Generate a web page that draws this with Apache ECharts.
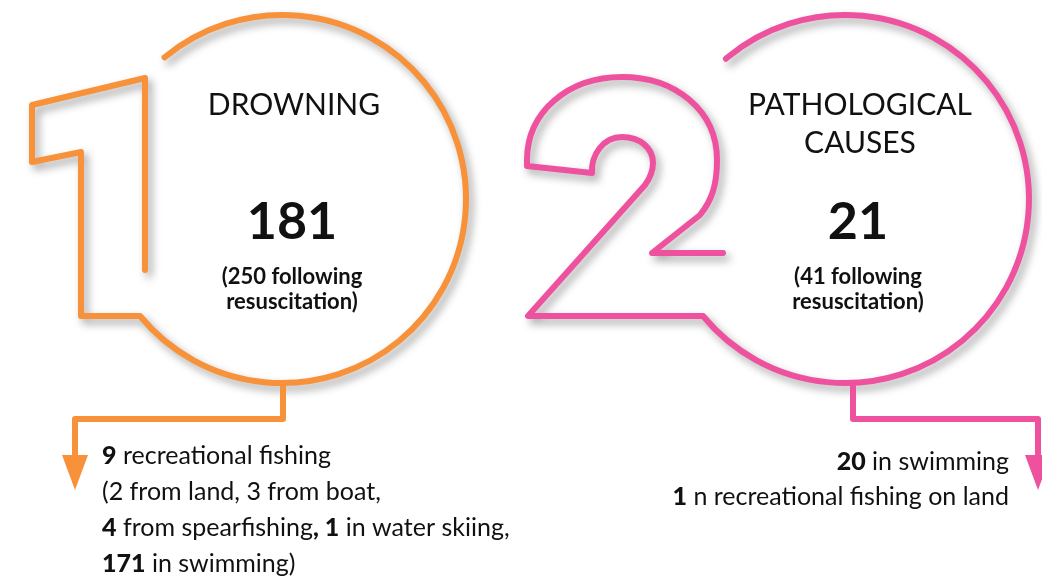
<!DOCTYPE html>
<html>
<head>
<meta charset="utf-8">
<script src="https://cdn.jsdelivr.net/npm/echarts@6/dist/echarts.min.js"></script>
<style>
  html, body { margin: 0; padding: 0; background: #fff; }
  #main { width: 1042px; height: 585px; }
</style>
</head>
<body>
<div id="main"></div>
<script>
const causes = ['DROWNING', 'PATHOLOGICAL\nCAUSES'];
const deaths = [181, 21];
const afterResuscitation = [250, 41];
const colors = ['#F7923A', '#EE529F'];

// drowning: fishing total, from land, from boat, spearfishing, water skiing, swimming
const drowningBreakdown = [9, 2, 3, 4, 1, 171];
// pathological: swimming, fishing on land
const pathologicalBreakdown = [20, 1];

const d = drowningBreakdown, p = pathologicalBreakdown;
const detailLines = [
  [
    '{b|' + d[0] + '} recreational fishing',
    '(' + d[1] + ' from land, ' + d[2] + ' from boat,',
    '{b|' + d[3] + '} from spearfishing{b|, ' + d[4] + '} in water skiing,',
    '{b|' + d[5] + '} in swimming)'
  ],
  [
    '{b|' + p[0] + '} in swimming',
    '{b|' + p[1] + '} n recreational fishing on land'
  ]
];

const FONT = 'Lato, "Noto Sans", sans-serif';
const R = 184;

// big outlined digit + surrounding circle, drawn relative to the circle centre
function digitPath(i, cx, cy) {
  const P = (x, y) => (cx + x).toFixed(1) + ',' + (cy + y).toFixed(1) + ' ';
  const sx = -Math.sqrt(R * R - 117 * 117);
  let s, endA;
  if (i === 0) {
    s = 'M' + P(-137, 71) + 'L' + P(-137, -121) + 'L' + P(-250, -94) + 'L' + P(-250, -37) +
      'L' + P(-201, -47) + 'L' + P(-201, 117) + 'L' + P(sx, 117);
    endA = Math.atan2(-141, -117);
  } else {
    s = 'M' + P(-122, 54) + 'L' + P(-193, 54) + 'L' + P(-145, 16) +
      'C' + P(-133, 1) + P(-128, -14) + P(-128, -39) +
      'C' + P(-128, -89) + P(-170, -122) + P(-223, -122) +
      'C' + P(-277, -122) + P(-318, -87) + P(-318, -39) +
      'L' + P(-318, -33) + 'L' + P(-253, -26) +
      'C' + P(-254, -44) + P(-242, -62) + P(-223, -62) +
      'C' + P(-205, -62) + P(-192, -51) + P(-192, -36) +
      'C' + P(-192, -27) + P(-195, -21) + P(-200, -14) +
      'L' + P(-317, 117) + 'L' + P(sx, 117);
    endA = Math.atan2(-139, -118);
  }
  s += 'A' + R + ',' + R + ' 0 1 0 ' + P(R * Math.cos(endA), R * Math.sin(endA));
  return s;
}

const layout = [
  { cx: 282, cy: 199, textX: 292, stemX: 1, arrowX: -207, detailX: 102, detailY: 456, detailGap: 36, align: 'left' },
  { cx: 845, cy: 199, textX: 858, stemX: 8, arrowX: 193, detailX: 1009, detailY: 462, detailGap: 35, align: 'right' }
];

const chart = echarts.init(document.getElementById('main'));

chart.setOption({
  animation: false,
  series: [{
    type: 'custom',
    coordinateSystem: 'none',
    silent: true,
    data: deaths.map((v, i) => [i, v, afterResuscitation[i]]),
    renderItem: function (params, api) {
      const i = params.dataIndex;
      const L = layout[i];
      const color = colors[i];
      const cx = L.cx, cy = L.cy;
      const children = [];

      children.push({
        type: 'path',
        shape: { pathData: digitPath(i, cx, cy) },
        style: {
          fill: 'none', stroke: color, lineWidth: 6, lineCap: 'round', lineJoin: 'round',
          shadowBlur: 8, shadowColor: 'rgba(0,0,0,0.35)', shadowOffsetX: 4, shadowOffsetY: 5
        }
      });

      // connector to the detail text
      const stemTop = cy + Math.sqrt(R * R - L.stemX * L.stemX);
      const elbowY = cy + 220;
      const headY = cy + 256;
      children.push({
        type: 'polyline',
        shape: { points: [[cx + L.stemX, stemTop], [cx + L.stemX, elbowY], [cx + L.arrowX, elbowY], [cx + L.arrowX, headY + 2]] },
        style: { fill: 'none', stroke: color, lineWidth: 6, lineJoin: 'round' }
      });
      children.push({
        type: 'polygon',
        shape: { points: [[cx + L.arrowX - 13, headY], [cx + L.arrowX + 13, headY], [cx + L.arrowX, headY + 35]] },
        style: { fill: color }
      });

      // title
      causes[i].split('\n').forEach((line, k) => {
        children.push({
          type: 'text',
          style: {
            text: line, x: L.textX + 2, y: 105 + k * 38, fill: '#111',
            fontFamily: FONT, fontSize: 30, fontWeight: 'normal',
            align: 'center', verticalAlign: 'middle'
          }
        });
      });

      children.push({
        type: 'text',
        style: {
          text: String(api.value(1)), x: L.textX, y: 222, fill: '#111',
          fontFamily: FONT, fontSize: 52, fontWeight: 'bold',
          align: 'center', verticalAlign: 'middle'
        }
      });

      ['(' + api.value(2) + ' following', 'resuscitation)'].forEach((line, k) => {
        children.push({
          type: 'text',
          style: {
            text: line, x: L.textX, y: 277 + k * 25, fill: '#111',
            fontFamily: FONT, fontSize: 22, fontWeight: 'bold',
            align: 'center', verticalAlign: 'middle'
          }
        });
      });

      detailLines[i].forEach((line, k) => {
        children.push({
          type: 'text',
          style: {
            text: line, x: L.detailX, y: L.detailY + k * L.detailGap, fill: '#111',
            fontFamily: FONT, fontSize: 25, fontWeight: 'normal',
            align: L.align, verticalAlign: 'middle',
            rich: { b: { fontFamily: FONT, fontSize: 25, fontWeight: 900, fill: '#111' } }
          }
        });
      });

      return { type: 'group', children: children };
    }
  }]
});
</script>
</body>
</html>
